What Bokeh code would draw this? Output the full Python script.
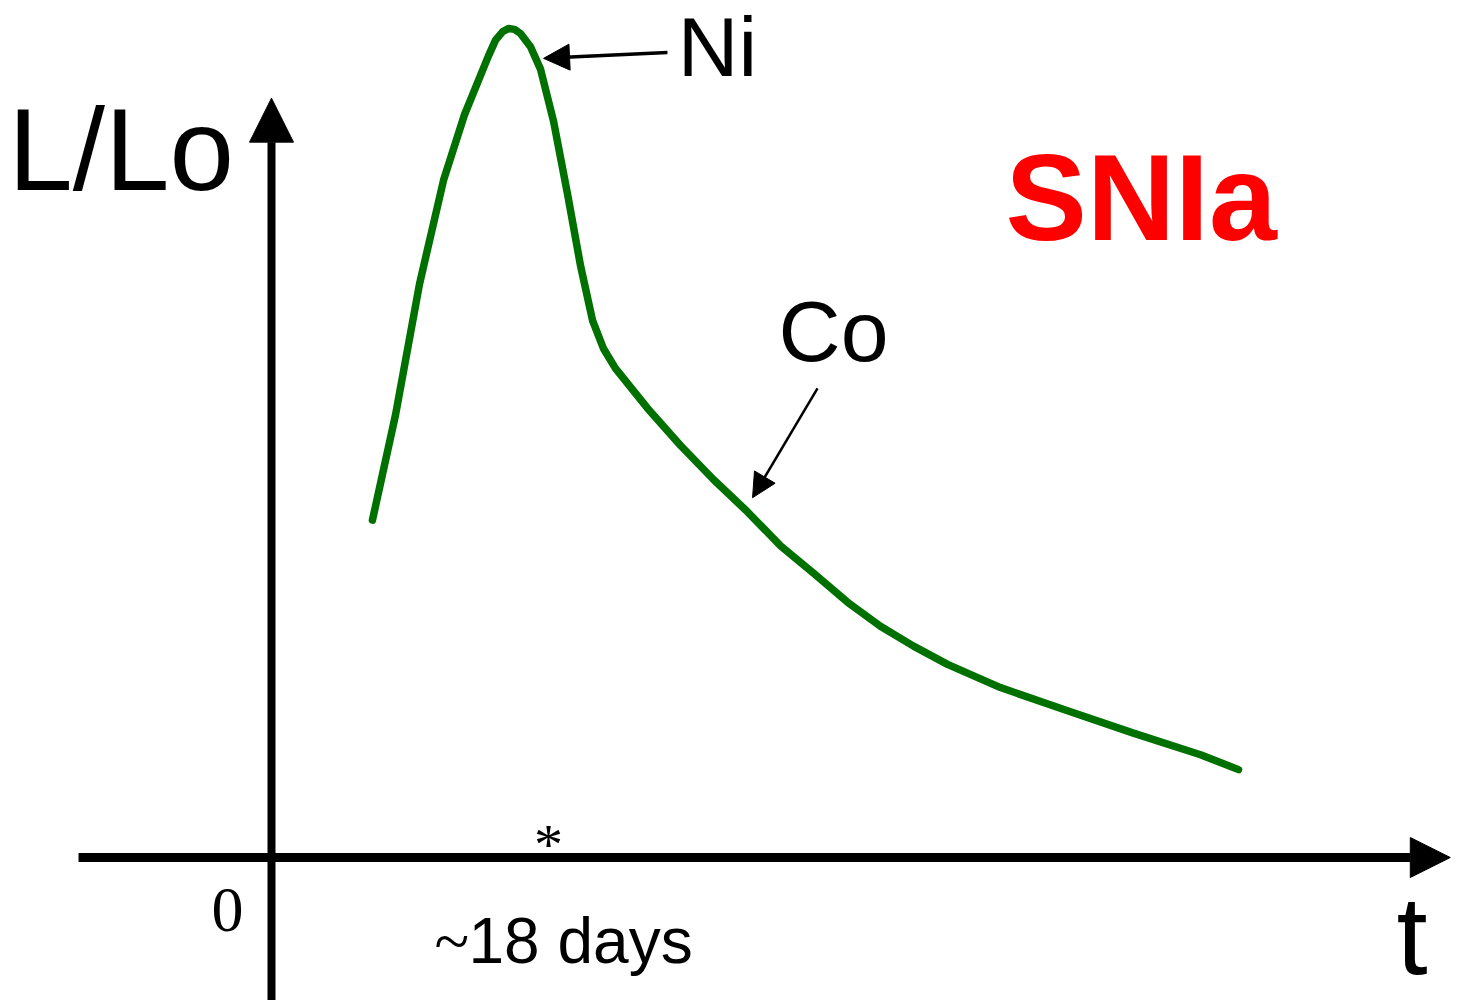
from bokeh.plotting import figure
from bokeh.models import Range1d, Arrow, NormalHead, Label
from bokeh.embed import file_html
from bokeh.resources import INLINE

# ---- data (time in days, luminosity L/L0 normalised to peak) ----
curve_t = [6.56, 8.06, 9.62, 11.18, 12.54, 14.10, 14.56, 15.01, 15.40, 15.79, 16.18, 16.83, 17.48,
           18.33, 19.23, 20.08, 20.86, 21.57, 22.35, 24.43, 26.58, 28.72, 30.93,
           33.08, 35.22, 37.43, 39.57, 41.72, 43.93, 47.37, 51.73, 56.01, 60.37, 62.84]
curve_L = [0.407, 0.534, 0.692, 0.817, 0.896, 0.967, 0.986, 0.996, 1.000, 0.999, 0.994, 0.978, 0.951,
           0.888, 0.801, 0.714, 0.648, 0.614, 0.590, 0.542, 0.497, 0.456, 0.417,
           0.376, 0.343, 0.308, 0.279, 0.255, 0.233, 0.205, 0.177, 0.150, 0.124, 0.106]

peak_day_label = "~18 days"
marker_day = 18.0

x_axis_start, x_axis_end = -12.54, 76.6
y_axis_start, y_axis_end = -0.18, 0.916

ni_arrow = dict(t0=25.73, L0=0.971, t1=17.68, L1=0.964)
co_arrow = dict(t0=35.48, L0=0.566, t1=31.26, L1=0.434)

p = figure(width=1452, height=1000,
           x_range=Range1d(-17.61, 76.744), y_range=Range1d(-0.1725, 1.0338),
           output_backend="svg", toolbar_location=None, min_border=0)
p.axis.visible = False
p.grid.visible = False
p.outline_line_color = None
p.background_fill_color = "white"
p.border_fill_color = "white"

# axes with arrow heads
p.add_layout(Arrow(x_start=0, y_start=y_axis_start, x_end=0, y_end=y_axis_end,
                   line_width=8, line_color="black",
                   end=NormalHead(size=44, fill_color="black", line_color="black", line_width=1)))
p.add_layout(Arrow(x_start=x_axis_start, y_start=0, x_end=x_axis_end, y_end=0,
                   line_width=9, line_color="black",
                   end=NormalHead(size=40, fill_color="black", line_color="black", line_width=1)))

# light curve
p.line(curve_t, curve_L, line_color="#007000", line_width=7.5, line_join="round", line_cap="round")

# annotation arrows
p.add_layout(Arrow(x_start=ni_arrow["t0"], y_start=ni_arrow["L0"], x_end=ni_arrow["t1"], y_end=ni_arrow["L1"],
                   line_width=3.5, line_color="black",
                   end=NormalHead(size=26, fill_color="black", line_color="black", line_width=1)))
p.add_layout(Arrow(x_start=co_arrow["t0"], y_start=co_arrow["L0"], x_end=co_arrow["t1"], y_end=co_arrow["L1"],
                   line_width=2.5, line_color="black",
                   end=NormalHead(size=24, fill_color="black", line_color="black", line_width=1)))

def lab(x, y, text, size, font="Liberation Sans", color="black", style="normal", align="left"):
    p.add_layout(Label(x=x, y=y, text=text, text_font=font, text_font_size=f"{size}px",
                       text_color=color, text_font_style=style, text_align=align,
                       text_baseline="alphabetic", y_offset=round(0.37 * size)))

lab(-17.10, 0.801, "L/Lo", 116)
lab(26.40, 0.940, "Ni", 84)
lab(47.70, 0.741, "SNIa", 122, color="#ff0000", style="bold")
lab(32.95, 0.597, "Co", 86)
lab(-3.90, -0.0917, "0", 64, font="Liberation Serif")
lab(10.59, -0.130, "~", 64, font="Liberation Serif")
lab(12.80, -0.130, peak_day_label[1:], 64)
lab(marker_day, -0.0097, "*", 58, font="Liberation Serif", align="center")
lab(73.10, -0.1436, "t", 112)

open("out.html", "w").write(file_html(p, INLINE))
